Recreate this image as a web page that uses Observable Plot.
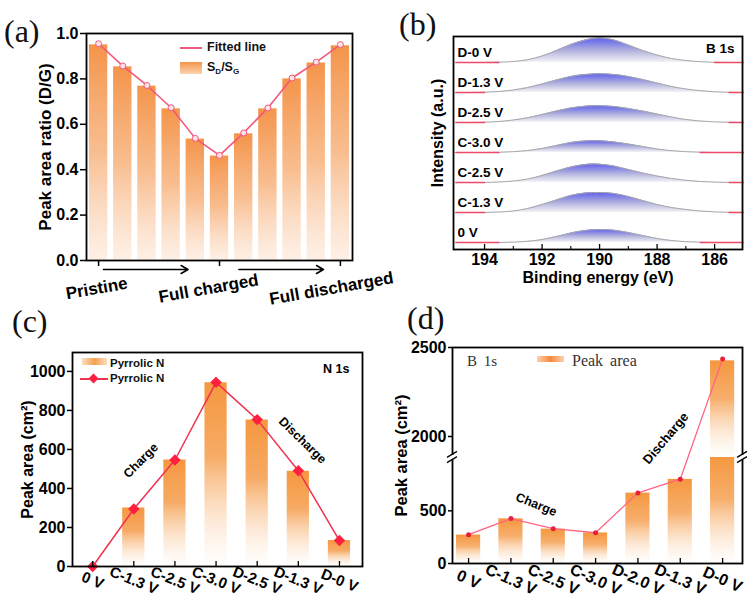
<!DOCTYPE html>
<html>
<head>
<meta charset="utf-8">
<script src="https://cdn.jsdelivr.net/npm/d3@7"></script>
<script src="https://cdn.jsdelivr.net/npm/@observablehq/plot@0.6"></script>
<style>
html,body{margin:0;padding:0;background:#fff;}
#wrap{position:relative;width:748px;height:603px;overflow:hidden;background:#fff;font-family:'Liberation Sans',Arial,Helvetica,sans-serif;}
.panel{position:absolute;width:374px;}
.panel svg{display:block;}
.tag{position:absolute;font-family:'Liberation Serif','Times New Roman',serif;font-size:32px;line-height:1;color:#111;}
.lg{position:absolute;font-weight:bold;line-height:1;color:#111;white-space:nowrap;}
.lgs{position:absolute;font-family:'Liberation Serif','Times New Roman',serif;line-height:1;color:#333;white-space:nowrap;}
.sw{position:absolute;}
.lg sub{font-size:8px;vertical-align:-3px;}
</style>
</head>
<body>
<div id="wrap"></div>
<script>
// ---------------- data: panel (a) ----------------
const aStage = ["Pristine", "Full charged", "Full discharged"];
const aStageAt = [0, 5, 10];
const aRatio = [0.950, 0.853, 0.768, 0.668, 0.535, 0.460, 0.558, 0.668, 0.800, 0.870, 0.946];
const aFitted = [0.955, 0.857, 0.771, 0.673, 0.538, 0.463, 0.562, 0.672, 0.804, 0.874, 0.951];
const aYTicks = [0, 0.2, 0.4, 0.6, 0.8, 1.0];

// ---------------- data: panel (b) ----------------
const bEnergy = [195, 194.5, 194, 193.5, 193, 192.5, 192, 191.5, 191, 190.5, 190, 189.5, 189, 188.5, 188, 187.5, 187, 186.5, 186, 185.5, 185];
const bSample = ["0 V", "C-1.3 V", "C-2.5 V", "C-3.0 V", "D-2.5 V", "D-1.3 V", "D-0 V"];
const b0V  = [0, 0, 0, 0, 0.4, 1.2, 3, 6, 9.5, 12, 13, 12.3, 10, 7, 4, 2, 0.8, 0.3, 0, 0, 0];
const bC13 = [0, 0, 0, 0.5, 1.5, 4, 8, 12.5, 17, 19.5, 20, 19, 16, 12, 8, 5, 3, 1.5, 0.6, 0.2, 0];
const bC25 = [0, 0, 0, 0.5, 1.5, 3.5, 7, 11.5, 15.5, 18, 18.3, 16.5, 13, 9.5, 6.5, 4, 2.2, 1, 0.4, 0, 0];
const bC30 = [0, 0, 0, 0.2, 0.8, 2, 4, 7, 10, 11.5, 11.7, 10.5, 8.5, 6, 3.5, 1.8, 0.8, 0.3, 0, 0, 0];
const bD25 = [0, 0, 0.3, 1, 2.5, 4.8, 8, 11.5, 14.5, 16.3, 16.7, 16, 14, 11.5, 8.5, 5.5, 3, 1.5, 0.6, 0.2, 0];
const bD13 = [0, 0, 0.3, 1, 2.5, 5, 8.5, 12.5, 16, 18, 18.7, 18, 16, 13, 9.5, 6, 3.5, 1.8, 0.7, 0.2, 0];
const bD0  = [0, 0, 0, 0.3, 1, 2.8, 6.5, 12, 18, 22.5, 24.5, 22.5, 17.5, 12, 7.5, 4, 2, 0.8, 0.2, 0, 0];
const bMajorTicks = [194, 192, 190, 188, 186];
const bMinorTicks = [193, 191, 189, 187];

// ---------------- data: panel (c) ----------------
const cSample = ["0 V", "C-1.3 V", "C-2.5 V", "C-3.0 V", "D-2.5 V", "D-1.3 V", "D-0 V"];
const cBar  = [0, 300, 546, 942, 751, 488, 133];
const cLine = [0, 295, 546, 944, 753, 491, 133];
const cYTicks = [0, 200, 400, 600, 800, 1000];

// ---------------- data: panel (d) ----------------
const dSample = ["0 V", "C-1.3 V", "C-2.5 V", "C-3.0 V", "D-2.0 V", "D-1.3 V", "D-0 V"];
const dBar  = [270, 424, 326, 290, 668, 798, 2425];
const dLine = [273, 426, 330, 292, 670, 800, 2436];
const dYTicks = [0, 500, 2000, 2500];
const dBreak = [1006, 1882];

// ---------------- helpers ----------------
const FONT = "'Liberation Sans', Arial, Helvetica, sans-serif";
const baseStyle = `font-family:${FONT};font-weight:bold;font-size:16px;background:transparent;overflow:visible;color:#000;`;
const NS = "http://www.w3.org/2000/svg";
const wrap = document.getElementById("wrap");

function mount(chart, left, top) {
  const d = document.createElement("div");
  d.className = "panel";
  d.style.left = left + "px";
  d.style.top = top + "px";
  d.appendChild(chart);
  wrap.appendChild(d);
}

function gradient(id, stops) {
  return () => {
    const defs = document.createElementNS(NS, "defs");
    const g = document.createElementNS(NS, "linearGradient");
    g.setAttribute("id", id);
    g.setAttribute("x1", "0"); g.setAttribute("y1", "0");
    g.setAttribute("x2", "0"); g.setAttribute("y2", "1");
    for (const [o, c, a] of stops) {
      const s = document.createElementNS(NS, "stop");
      s.setAttribute("offset", o);
      s.setAttribute("stop-color", c);
      s.setAttribute("stop-opacity", a);
      g.appendChild(s);
    }
    defs.appendChild(g);
    return defs;
  };
}

function axisBreak(value) {
  return (index, scales, values, dims) => {
    const g = document.createElementNS(NS, "g");
    const y = scales.y(value);
    for (const x of [dims.marginLeft, dims.width - dims.marginRight]) {
      const r = document.createElementNS(NS, "rect");
      r.setAttribute("x", x - 3); r.setAttribute("y", y - 2.2);
      r.setAttribute("width", 6); r.setAttribute("height", 4.4);
      r.setAttribute("fill", "#fff");
      g.appendChild(r);
      for (const o of [-2.6, 2.6]) {
        const l = document.createElementNS(NS, "line");
        l.setAttribute("x1", x - 5); l.setAttribute("y1", y + o + 3);
        l.setAttribute("x2", x + 5); l.setAttribute("y2", y + o - 3);
        l.setAttribute("stroke", "#000"); l.setAttribute("stroke-width", 1.3);
        g.appendChild(l);
      }
    }
    return g;
  };
}

// ---------------- panel (a) ----------------
const aRows = aRatio.map((v, i) => ({i, v, fit: aFitted[i]}));
const aLabelShift = [-0.08, -0.45, -0.37];
const aArrows = [{from: 0.2, to: 3.7}, {from: 5.8, to: 9.3}];
const chartA = Plot.plot({
  width: 374, height: 300,
  marginLeft: 86, marginRight: 22, marginTop: 33, marginBottom: 40,
  style: baseStyle,
  x: {domain: [-0.5, 10.5]},
  y: {domain: [0, 1]},
  marks: [
    gradient("gA", [[0, "#f4944a", 1], [0.5, "#f7b27c", 0.85], [1, "#fde4d2", 0.55]]),
    Plot.rectY(aRows, {x1: d => d.i - 0.38, x2: d => d.i + 0.38, y1: 0, y2: "v", fill: "url(#gA)"}),
    Plot.line(aRows, {x: "i", y: "fit", stroke: "#f2587c", strokeWidth: 1.6}),
    Plot.dot(aRows, {x: "i", y: "fit", r: 3, stroke: "#f2587c", fill: "#fde3e7", strokeWidth: 1}),
    Plot.frame({stroke: "#000", strokeWidth: 1.8}),
    Plot.axisY({ticks: aYTicks, tickFormat: ".1f", tickSize: 6, tickPadding: 2, strokeWidth: 1.5, label: null}),
    Plot.axisX({ticks: aStageAt, tickSize: 6, tickFormat: () => "", strokeWidth: 1.5, label: null}),
    Plot.text(aStage, {x: (d, i) => aStageAt[i] + aLabelShift[i], frameAnchor: "bottom", lineAnchor: "middle", dy: 28, rotate: -10, text: d => d, fontSize: 17}),
    Plot.arrow(aArrows, {x1: "from", x2: "to", y1: 0, y2: 0, dy: 9, stroke: "#000", strokeWidth: 1.5, headLength: 8}),
    Plot.text(["Peak area ratio (D/G)"], {frameAnchor: "left", textAnchor: "middle", lineAnchor: "middle", dx: -41, rotate: -90, text: d => d, fontSize: 17})
  ]
});
mount(chartA, 0, 0);

// ---------------- panel (b) ----------------
const bSeries = [b0V, bC13, bC25, bC30, bD25, bD13, bD0];
const bStep = 30, bBase = 7;
const bRows = bSeries.flatMap((arr, k) => arr.map((v, j) => ({k, name: bSample[k], e: bEnergy[j], v, base: bBase + bStep * k})));
const chartB = Plot.plot({
  width: 374, height: 300,
  marginLeft: 79, marginRight: 6, marginTop: 36, marginBottom: 51,
  style: baseStyle,
  x: {domain: [195.08, 185.03], axis: null},
  y: {domain: [0, 213], axis: null},
  marks: [
    gradient("gB", [[0, "#5d5dee", 1], [0.5, "#adadde", 1], [1, "#f3f3f5", 1]]),
    Plot.areaY(bRows, {x: "e", y1: "base", y2: d => d.base + d.v, z: "name", fill: "url(#gB)", curve: "catmull-rom"}),
    Plot.line(bRows, {x: "e", y: d => d.base + d.v, z: "name", stroke: "#a8a8a8", strokeWidth: 1, curve: "catmull-rom"}),
    Plot.line(bRows, {x: "e", y: d => d.v < 0.35 ? d.base : NaN, z: "name", stroke: "#ec4a68", strokeWidth: 1.3}),
    Plot.frame({stroke: "#000", strokeWidth: 1.8}),
    Plot.axisX({ticks: bMajorTicks, tickSize: 5, dy: -5, tickFormat: () => "", strokeWidth: 1.3, label: null}),
    Plot.axisX({ticks: bMinorTicks, tickSize: 3, dy: -3, tickFormat: () => "", strokeWidth: 1.1, label: null}),
    Plot.axisX({ticks: bMajorTicks, tickSize: 0, tickPadding: 4, tickFormat: d => String(d), label: null}),
    Plot.text(bSample, {frameAnchor: "left", y: (d, k) => bBase + bStep * k, dy: -10, dx: 4, textAnchor: "start", lineAnchor: "middle", text: d => d, fontSize: 13.5}),
    Plot.text(["B 1s"], {frameAnchor: "top-right", dx: -8, dy: 12, textAnchor: "end", lineAnchor: "middle", text: d => d, fontSize: 13.5}),
    Plot.text(["Intensity (a.u.)"], {frameAnchor: "left", textAnchor: "middle", lineAnchor: "middle", dx: -16, dy: -10, rotate: -90, text: d => d, fontSize: 16}),
    Plot.text(["Binding energy (eV)"], {frameAnchor: "bottom", lineAnchor: "middle", dy: 28, text: d => d, fontSize: 16})
  ]
});
mount(chartB, 374, 0);

// ---------------- panel (c) ----------------
const cRows = cSample.map((s, i) => ({i, s, bar: cBar[i], pt: cLine[i]}));
const chartC = Plot.plot({
  width: 374, height: 303,
  marginLeft: 72, marginRight: 12, marginTop: 52, marginBottom: 37,
  style: baseStyle,
  x: {domain: [-0.49, 6.56]},
  y: {domain: [0, 1097]},
  marks: [
    gradient("gC", [[0, "#f5973f", 1], [0.4, "#f6a65c", 0.95], [1, "#fde3cc", 0.05]]),
    Plot.rectY(cRows.filter(d => d.bar > 0), {x1: d => d.i - 0.27, x2: d => d.i + 0.27, y1: 0, y2: "bar", fill: "url(#gC)"}),
    Plot.line(cRows, {x: "i", y: "pt", stroke: "#f0324f", strokeWidth: 1.5}),
    Plot.dot(cRows, {x: "i", y: "pt", symbol: "diamond2", r: 4.2, fill: "#ff2040", stroke: "#ff2040"}),
    Plot.frame({stroke: "#000", strokeWidth: 1.8}),
    Plot.axisY({ticks: cYTicks, tickSize: 5, tickPadding: 2, tickFormat: d => String(d), strokeWidth: 1.5, label: null}),
    Plot.axisX({ticks: cRows.map(d => d.i), tickSize: 5, dy: -5, tickFormat: () => "", strokeWidth: 1.3, label: null}),
    Plot.text(cSample, {x: (d, i) => i, frameAnchor: "bottom", lineAnchor: "middle", dy: 14, rotate: 22, text: d => d, fontSize: 15}),
    Plot.text(["Charge"], {x: 1.17, y: 543, rotate: -45, text: d => d, fontSize: 12.5}),
    Plot.text(["Discharge"], {x: 5.1, y: 646, rotate: 44, text: d => d, fontSize: 12.5}),
    Plot.text(["N 1s"], {frameAnchor: "top-right", dx: -13, dy: 16, textAnchor: "end", lineAnchor: "middle", text: d => d, fontSize: 12.5}),
    Plot.text(["Peak area (cm²)"], {frameAnchor: "left", textAnchor: "middle", lineAnchor: "middle", dx: -45, rotate: -90, text: d => d, fontSize: 16})
  ]
});
mount(chartC, 0, 300);

// ---------------- panel (d): broken y axis ----------------
const dUpperStretch = 1.689; // upper segment is drawn 1.689x taller per unit than the lower one
const dMap = v => v <= dBreak[0] ? v : dBreak[0] + (Math.max(v, dBreak[1]) - dBreak[1]) * dUpperStretch;
const dTickText = new Map(dYTicks.map(v => [dMap(v), String(v)]));
const dRows = dSample.map((s, i) => ({i, s, bar: dBar[i], pt: dLine[i]}));
const dRects = dRows.flatMap(d => d.bar > dBreak[0]
  ? [{i: d.i, lo: 0, hi: dBreak[0]}, {i: d.i, lo: dBreak[1], hi: d.bar}]
  : [{i: d.i, lo: 0, hi: d.bar}]);
const chartD = Plot.plot({
  width: 374, height: 303,
  marginLeft: 78, marginRight: 6, marginTop: 47, marginBottom: 40,
  style: baseStyle,
  x: {domain: [-0.38, 6.47]},
  y: {domain: [0, dMap(2500)]},
  marks: [
    gradient("gD", [[0, "#f5973f", 1], [0.4, "#f6a65c", 0.9], [1, "#fde3cc", 0.05]]),
    Plot.rectY(dRects, {x1: d => d.i - 0.285, x2: d => d.i + 0.285, y1: d => dMap(d.lo), y2: d => dMap(d.hi), fill: "url(#gD)"}),
    Plot.line(dRows, {x: "i", y: d => dMap(d.pt), stroke: "#ff6584", strokeWidth: 1.3}),
    Plot.dot(dRows, {x: "i", y: d => dMap(d.pt), r: 2.5, fill: "#e8203c"}),
    Plot.frame({stroke: "#000", strokeWidth: 1.8}),
    axisBreak(dBreak[0]),
    Plot.axisY({ticks: dYTicks.map(dMap), tickFormat: t => dTickText.get(t), tickSize: 4, tickPadding: 2, strokeWidth: 1.5, label: null}),
    Plot.axisX({ticks: dRows.map(d => d.i), tickSize: 5, dy: -5, tickFormat: () => "", strokeWidth: 1.3, label: null}),
    Plot.text(dSample, {x: (d, i) => i, frameAnchor: "bottom", lineAnchor: "middle", dy: 16, rotate: 24, text: d => d, fontSize: 16}),
    Plot.text(["Charge"], {x: 1.6, y: dMap(560), rotate: 22, text: d => d, fontSize: 12.5}),
    Plot.text(["Discharge"], {x: 4.66, y: dMap(1990), rotate: -50, text: d => d, fontSize: 13}),
    Plot.text(["Peak area (cm²)"], {frameAnchor: "left", textAnchor: "middle", lineAnchor: "middle", dx: -51, rotate: -90, text: d => d, fontSize: 16.5})
  ]
});
mount(chartD, 374, 300);

// ---------------- panel tags & legends ----------------
wrap.insertAdjacentHTML("beforeend", `
<div class="tag" style="left:4px;top:15px">(a)</div>
<div class="tag" style="left:399px;top:8px">(b)</div>
<div class="tag" style="left:12px;top:305px">(c)</div>
<div class="tag" style="left:407px;top:302px">(d)</div>

<div class="sw" style="left:180px;top:47px;width:22px;height:2px;background:#f2587c"></div>
<div class="lg" style="left:207px;top:41px;font-size:12.5px">Fitted line</div>
<div class="sw" style="left:180px;top:62px;width:22px;height:12px;background:linear-gradient(#f4964a,#fbd2b0)"></div>
<div class="lg" style="left:207px;top:61px;font-size:12.5px">S<sub>D</sub>/S<sub>G</sub></div>

<div class="sw" style="left:82px;top:358px;width:25px;height:7px;background:linear-gradient(90deg,rgba(245,160,80,0.35),#f5a050,rgba(245,160,80,0.35))"></div>
<div class="lg" style="left:110px;top:358px;font-size:11.5px">Pyrrolic N</div>
<div class="sw" style="left:80px;top:378px;width:28px;height:2px;background:#ee3355"></div>
<div class="sw" style="left:90px;top:375px;width:7px;height:7px;background:#ff2040;transform:rotate(45deg)"></div>
<div class="lg" style="left:110px;top:373px;font-size:11.5px">Pyrrolic N</div>

<div class="lgs" style="left:467px;top:354px;font-size:15px;word-spacing:3px">B 1s</div>
<div class="sw" style="left:537px;top:356px;width:27px;height:6px;background:linear-gradient(90deg,rgba(245,140,60,0.4),#f58a3c,rgba(245,140,60,0.4))"></div>
<div class="lgs" style="left:572px;top:353px;font-size:16px;word-spacing:3px">Peak area</div>
`);
</script>
</body>
</html>
